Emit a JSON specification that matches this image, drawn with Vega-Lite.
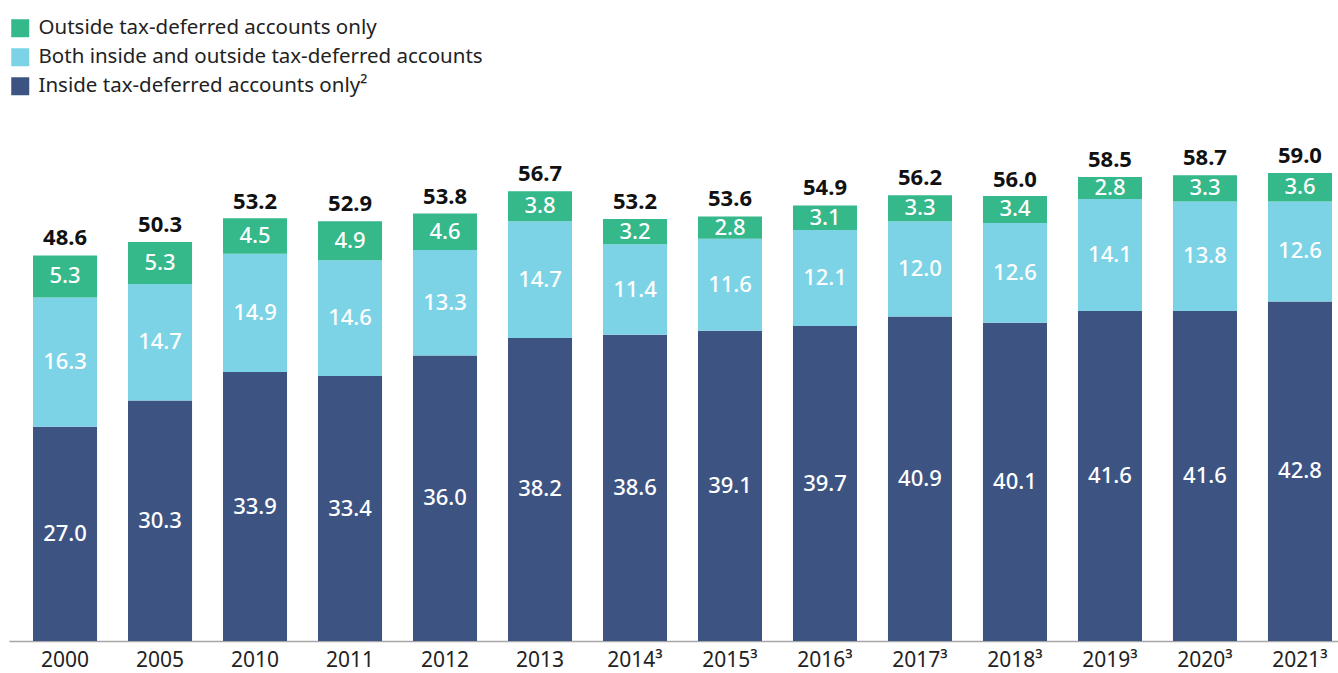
{
  "$schema": "https://vega.github.io/schema/vega-lite/v6.json",
  "autosize": {"type": "none"},
  "width": 1329,
  "height": 476,
  "padding": {"left": 9, "top": 165, "right": 0, "bottom": 32},
  "background": "white",
  "config": {"view": {"stroke": null}, "font": "Noto Sans"},
  "datasets": {
    "segments": [
      {"year": "2000", "category": "Inside tax-deferred accounts only²", "value": 27.0},
      {"year": "2000", "category": "Both inside and outside tax-deferred accounts", "value": 16.3},
      {"year": "2000", "category": "Outside tax-deferred accounts only", "value": 5.3},
      {"year": "2005", "category": "Inside tax-deferred accounts only²", "value": 30.3},
      {"year": "2005", "category": "Both inside and outside tax-deferred accounts", "value": 14.7},
      {"year": "2005", "category": "Outside tax-deferred accounts only", "value": 5.3},
      {"year": "2010", "category": "Inside tax-deferred accounts only²", "value": 33.9},
      {"year": "2010", "category": "Both inside and outside tax-deferred accounts", "value": 14.9},
      {"year": "2010", "category": "Outside tax-deferred accounts only", "value": 4.5},
      {"year": "2011", "category": "Inside tax-deferred accounts only²", "value": 33.4},
      {"year": "2011", "category": "Both inside and outside tax-deferred accounts", "value": 14.6},
      {"year": "2011", "category": "Outside tax-deferred accounts only", "value": 4.9},
      {"year": "2012", "category": "Inside tax-deferred accounts only²", "value": 36.0},
      {"year": "2012", "category": "Both inside and outside tax-deferred accounts", "value": 13.3},
      {"year": "2012", "category": "Outside tax-deferred accounts only", "value": 4.6},
      {"year": "2013", "category": "Inside tax-deferred accounts only²", "value": 38.2},
      {"year": "2013", "category": "Both inside and outside tax-deferred accounts", "value": 14.7},
      {"year": "2013", "category": "Outside tax-deferred accounts only", "value": 3.8},
      {"year": "2014³", "category": "Inside tax-deferred accounts only²", "value": 38.6},
      {"year": "2014³", "category": "Both inside and outside tax-deferred accounts", "value": 11.4},
      {"year": "2014³", "category": "Outside tax-deferred accounts only", "value": 3.2},
      {"year": "2015³", "category": "Inside tax-deferred accounts only²", "value": 39.1},
      {"year": "2015³", "category": "Both inside and outside tax-deferred accounts", "value": 11.6},
      {"year": "2015³", "category": "Outside tax-deferred accounts only", "value": 2.8},
      {"year": "2016³", "category": "Inside tax-deferred accounts only²", "value": 39.7},
      {"year": "2016³", "category": "Both inside and outside tax-deferred accounts", "value": 12.1},
      {"year": "2016³", "category": "Outside tax-deferred accounts only", "value": 3.1},
      {"year": "2017³", "category": "Inside tax-deferred accounts only²", "value": 40.9},
      {"year": "2017³", "category": "Both inside and outside tax-deferred accounts", "value": 12.0},
      {"year": "2017³", "category": "Outside tax-deferred accounts only", "value": 3.3},
      {"year": "2018³", "category": "Inside tax-deferred accounts only²", "value": 40.1},
      {"year": "2018³", "category": "Both inside and outside tax-deferred accounts", "value": 12.6},
      {"year": "2018³", "category": "Outside tax-deferred accounts only", "value": 3.4},
      {"year": "2019³", "category": "Inside tax-deferred accounts only²", "value": 41.6},
      {"year": "2019³", "category": "Both inside and outside tax-deferred accounts", "value": 14.1},
      {"year": "2019³", "category": "Outside tax-deferred accounts only", "value": 2.8},
      {"year": "2020³", "category": "Inside tax-deferred accounts only²", "value": 41.6},
      {"year": "2020³", "category": "Both inside and outside tax-deferred accounts", "value": 13.8},
      {"year": "2020³", "category": "Outside tax-deferred accounts only", "value": 3.3},
      {"year": "2021³", "category": "Inside tax-deferred accounts only²", "value": 42.8},
      {"year": "2021³", "category": "Both inside and outside tax-deferred accounts", "value": 12.6},
      {"year": "2021³", "category": "Outside tax-deferred accounts only", "value": 3.6}
    ],
    "totals": [
      {"year": "2000", "total": 48.6},
      {"year": "2005", "total": 50.3},
      {"year": "2010", "total": 53.2},
      {"year": "2011", "total": 52.9},
      {"year": "2012", "total": 53.8},
      {"year": "2013", "total": 56.7},
      {"year": "2014³", "total": 53.2},
      {"year": "2015³", "total": 53.6},
      {"year": "2016³", "total": 54.9},
      {"year": "2017³", "total": 56.2},
      {"year": "2018³", "total": 56.0},
      {"year": "2019³", "total": 58.5},
      {"year": "2020³", "total": 58.7},
      {"year": "2021³", "total": 59.0}
    ]
  },
  "layer": [
    {
      "data": {"name": "segments"},
      "transform": [
        {"calculate": "datum.category === 'Inside tax-deferred accounts only²' ? 0 : datum.category === 'Both inside and outside tax-deferred accounts' ? 1 : 2", "as": "order"},
        {"stack": "value", "groupby": ["year"], "sort": [{"field": "order", "order": "ascending"}], "as": ["v0", "v1"]},
        {"calculate": "(datum.v0 + datum.v1) / 2", "as": "mid"}
      ],
      "layer": [
        {
          "mark": {"type": "bar"},
          "encoding": {
            "x": {"field": "year", "type": "nominal", "sort": null,
                  "scale": {"paddingInner": 0.326, "paddingOuter": 0.158, "align": 0.8},
                  "axis": {"title": null, "labelAngle": 0, "labelFontSize": 21, "labelColor": "#222222", "labelPadding": 8, "ticks": false, "domainColor": "#a6a6a6", "domainWidth": 1.5, "labelFont": "Noto Sans"}},
            "y": {"field": "v0", "type": "quantitative", "scale": {"domain": [0, 60]}, "axis": null},
            "y2": {"field": "v1"},
            "color": {"field": "category", "type": "nominal",
                      "scale": {"domain": ["Outside tax-deferred accounts only", "Both inside and outside tax-deferred accounts", "Inside tax-deferred accounts only²"],
                                "range": ["#35b88a", "#7dd3e6", "#3d5483"]},
                      "legend": {"title": null, "orient": "none", "legendX": 1, "legendY": -147, "direction": "vertical",
                                 "symbolType": "square", "symbolSize": 324, "symbolStrokeWidth": 0, "labelFontSize": 20.5, "labelColor": "#222222",
                                 "rowPadding": 8, "labelOffset": 8, "labelFont": "Noto Sans", "labelLimit": 600}}
          }
        },
        {
          "mark": {"type": "text", "color": "white", "fontSize": 22, "fontWeight": 500, "baseline": "middle"},
          "encoding": {
            "x": {"field": "year", "type": "nominal", "sort": null},
            "y": {"field": "mid", "type": "quantitative"},
            "text": {"field": "value", "type": "quantitative", "format": ".1f"}
          }
        }
      ]
    },
    {
      "data": {"name": "totals"},
      "mark": {"type": "text", "color": "#111111", "fontSize": 22, "fontWeight": "bold", "baseline": "bottom", "dy": -5},
      "encoding": {
        "x": {"field": "year", "type": "nominal", "sort": null},
        "y": {"field": "total", "type": "quantitative"},
        "text": {"field": "total", "type": "quantitative", "format": ".1f"}
      }
    }
  ]
}
